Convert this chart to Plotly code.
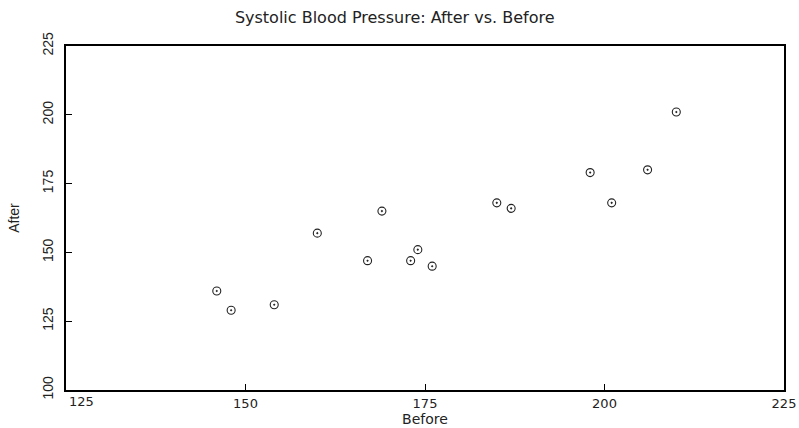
import plotly.graph_objects as go

# Data
before = [146, 148, 154, 160, 167, 169, 173, 174, 176, 185, 187, 198, 201, 206, 210]
after = [136, 129, 131, 157, 147, 165, 147, 151, 145, 168, 166, 179, 168, 180, 201]

x_ticks = [125, 150, 175, 200, 225]
y_ticks = [100, 125, 150, 175, 200, 225]

title_text = "Systolic Blood Pressure: After vs. Before"
x_title = "Before"
y_title = "After"

wide_font = "DejaVu Sans"
narrow_font = "Liberation Sans Narrow, Liberation Sans, sans-serif"

fig = go.Figure()
fig.add_trace(go.Scatter(
    x=before, y=after, mode="markers",
    marker=dict(symbol="circle-open-dot", size=8, color="#222222",
                line=dict(width=1.1, color="#222222")),
    showlegend=False, hoverinfo="x+y",
))

# first x tick label is drawn shifted right of its tick, as in the reference
x_ticktext = ["" if v == x_ticks[0] else str(v) for v in x_ticks]
fig.add_annotation(
    x=x_ticks[0], y=0, xref="x", yref="paper", text=str(x_ticks[0]),
    showarrow=False, xanchor="left", yanchor="top", xshift=1, yshift=-2,
    font=dict(family=wide_font, size=13, color="#222222"),
)

fig.update_layout(
    width=799, height=428,
    margin=dict(l=66, r=15, t=46, b=38, autoexpand=False),
    paper_bgcolor="white", plot_bgcolor="white",
    title=dict(text=title_text, x=0.494, xref="container", xanchor="center",
               y=0.96, yref="container", yanchor="middle",
               font=dict(family=wide_font, size=16, color="#222222")),
)

fig.update_xaxes(
    range=[x_ticks[0], x_ticks[-1]], tickvals=x_ticks, ticktext=x_ticktext,
    showgrid=False, zeroline=False,
    showline=True, linecolor="black", linewidth=2, mirror=True,
    ticks="inside", ticklen=6, tickwidth=1, tickcolor="black",
    tickfont=dict(family=wide_font, size=13, color="#222222"),
    title=dict(text=x_title, standoff=4,
               font=dict(family=wide_font, size=14, color="#222222")),
)
fig.update_yaxes(
    range=[y_ticks[0], y_ticks[-1]], tickvals=y_ticks,
    showgrid=False, zeroline=False,
    showline=True, linecolor="black", linewidth=2, mirror=True,
    ticks="inside", ticklen=6, tickwidth=1, tickcolor="black",
    tickangle=-90, ticklabelstandoff=5,
    tickfont=dict(family=narrow_font, size=14, color="#222222"),
    title=dict(text=y_title, standoff=18,
               font=dict(family=narrow_font, size=14, color="#222222")),
)

fig.write_html("out.html")
